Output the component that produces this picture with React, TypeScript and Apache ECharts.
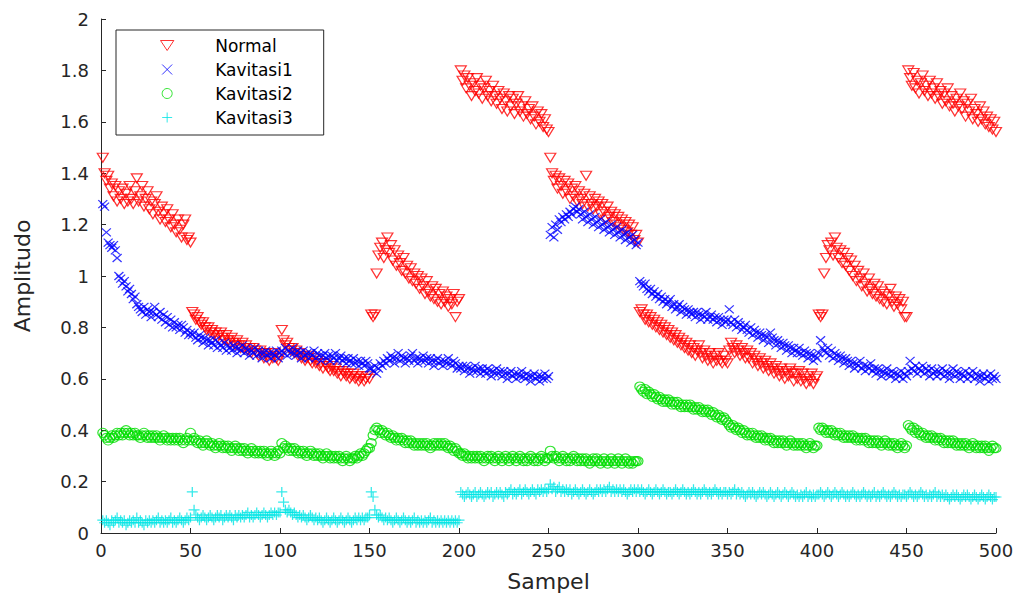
import React, { useEffect, useRef } from "react";
import * as echarts from "echarts";

// Sample values (index 1..500)
const normal = [
  1.46,1.40,1.37,1.39,1.34,1.36,1.31,1.35,1.29,1.33,1.30,1.34,1.28,1.32,1.29,1.35,1.30,1.28,1.33,1.38,1.29,1.31,1.35,1.27,1.30,1.33,1.26,1.29,1.24,1.28,1.31,1.25,1.22,1.27,1.24,1.21,1.26,1.22,1.19,1.24,1.20,1.17,1.22,1.18,1.15,1.20,1.22,1.14,1.15,1.13,
  0.86,0.85,0.83,0.84,0.82,0.81,0.82,0.80,0.79,0.80,0.78,0.79,0.77,0.78,0.76,0.77,0.78,0.76,0.75,0.77,0.75,0.74,0.76,0.74,0.73,0.75,0.73,0.72,0.74,0.72,0.73,0.71,0.72,0.70,0.72,0.71,0.70,0.69,0.71,0.70,0.68,0.70,0.69,0.67,0.69,0.68,0.70,0.68,0.67,0.69,
  0.79,0.75,0.73,0.74,0.72,0.71,0.72,0.70,0.71,0.69,0.70,0.68,0.69,0.67,0.68,0.69,0.67,0.66,0.68,0.66,0.67,0.65,0.66,0.64,0.66,0.65,0.64,0.63,0.65,0.63,0.64,0.62,0.63,0.61,0.63,0.62,0.61,0.62,0.60,0.61,0.62,0.60,0.61,0.59,0.60,0.61,0.59,0.60,0.61,0.60,
  0.85,0.84,0.85,1.01,1.08,1.11,1.13,1.07,1.10,1.15,1.09,1.12,1.06,1.10,1.04,1.08,1.05,1.02,1.07,1.01,1.04,0.99,1.03,0.98,1.01,0.97,1.00,0.95,0.99,0.96,0.93,0.98,0.94,0.92,0.96,0.91,0.95,0.90,0.93,0.89,0.94,0.90,0.92,0.88,0.91,0.89,0.93,0.84,0.90,0.91,
  1.80,1.76,1.78,1.73,1.77,1.74,1.70,1.75,1.72,1.77,1.71,1.74,1.69,1.73,1.76,1.70,1.72,1.68,1.74,1.70,1.67,1.72,1.69,1.65,1.71,1.68,1.64,1.70,1.66,1.69,1.63,1.67,1.70,1.64,1.66,1.62,1.68,1.63,1.65,1.61,1.66,1.62,1.59,1.64,1.60,1.63,1.58,1.61,1.57,1.56,
  1.46,1.40,1.37,1.39,1.34,1.38,1.35,1.32,1.37,1.33,1.36,1.30,1.34,1.31,1.35,1.29,1.33,1.30,1.28,1.32,1.39,1.27,1.31,1.28,1.26,1.30,1.27,1.29,1.24,1.28,1.25,1.22,1.27,1.23,1.25,1.21,1.24,1.20,1.23,1.19,1.22,1.18,1.21,1.17,1.20,1.16,1.19,1.14,1.16,1.13,
  0.86,0.87,0.85,0.83,0.85,0.82,0.84,0.81,0.83,0.80,0.82,0.79,0.81,0.78,0.80,0.77,0.79,0.76,0.78,0.75,0.77,0.74,0.76,0.73,0.75,0.72,0.74,0.71,0.73,0.70,0.72,0.69,0.71,0.73,0.70,0.68,0.71,0.69,0.67,0.70,0.68,0.66,0.69,0.67,0.70,0.67,0.66,0.69,0.67,0.66,
  0.71,0.74,0.72,0.70,0.73,0.71,0.69,0.72,0.70,0.68,0.71,0.68,0.70,0.66,0.69,0.67,0.65,0.68,0.66,0.64,0.67,0.65,0.63,0.66,0.64,0.62,0.65,0.63,0.61,0.64,0.62,0.60,0.63,0.61,0.64,0.62,0.59,0.62,0.60,0.63,0.59,0.62,0.60,0.58,0.61,0.59,0.62,0.58,0.60,0.61,
  0.85,0.84,0.85,1.01,1.07,1.12,1.10,1.13,1.08,1.15,1.11,1.07,1.10,1.05,1.09,1.04,1.07,1.02,1.06,1.00,1.04,0.98,1.02,0.99,0.96,1.01,0.97,0.94,0.99,0.95,0.93,0.97,0.92,0.96,0.91,0.94,0.90,0.93,0.89,0.92,0.95,0.90,0.88,0.92,0.89,0.91,0.87,0.90,0.84,0.84,
  1.80,1.77,1.74,1.79,1.73,1.76,1.71,1.75,1.78,1.72,1.74,1.70,1.76,1.71,1.73,1.69,1.75,1.70,1.72,1.67,1.71,1.68,1.73,1.66,1.70,1.67,1.64,1.69,1.66,1.71,1.65,1.68,1.62,1.67,1.64,1.69,1.61,1.65,1.63,1.60,1.66,1.61,1.64,1.59,1.62,1.58,1.61,1.57,1.60,1.56,
];

const kavitasi1 = [
  1.28,1.27,1.17,1.13,1.12,1.11,1.12,1.10,1.07,1.00,0.99,0.97,0.98,0.96,0.94,0.95,0.93,0.91,0.92,0.89,0.88,0.87,0.86,0.88,0.85,0.87,0.86,0.84,0.86,0.88,0.85,0.84,0.86,0.83,0.85,0.82,0.84,0.81,0.83,0.80,0.82,0.80,0.81,0.79,0.81,0.80,0.78,0.79,0.77,0.78,
  0.77,0.78,0.76,0.75,0.77,0.76,0.74,0.76,0.75,0.73,0.75,0.74,0.73,0.75,0.72,0.74,0.73,0.72,0.74,0.71,0.73,0.72,0.71,0.73,0.72,0.70,0.72,0.71,0.73,0.70,0.72,0.71,0.69,0.71,0.70,0.72,0.69,0.71,0.70,0.68,0.70,0.71,0.69,0.70,0.68,0.70,0.69,0.71,0.68,0.70,
  0.71,0.70,0.72,0.69,0.71,0.70,0.72,0.70,0.69,0.71,0.70,0.68,0.71,0.69,0.70,0.68,0.70,0.69,0.71,0.68,0.70,0.69,0.67,0.69,0.70,0.68,0.69,0.67,0.69,0.68,0.70,0.67,0.68,0.69,0.67,0.68,0.66,0.68,0.67,0.66,0.68,0.66,0.67,0.65,0.67,0.66,0.65,0.67,0.66,0.64,
  0.64,0.63,0.65,0.62,0.64,0.66,0.65,0.67,0.66,0.68,0.67,0.69,0.68,0.66,0.68,0.70,0.67,0.69,0.68,0.66,0.68,0.67,0.69,0.70,0.67,0.68,0.66,0.68,0.67,0.69,0.67,0.68,0.66,0.68,0.67,0.65,0.67,0.68,0.66,0.67,0.65,0.67,0.66,0.68,0.66,0.65,0.67,0.66,0.64,0.65,
  0.64,0.65,0.63,0.65,0.64,0.62,0.64,0.63,0.65,0.63,0.64,0.62,0.64,0.63,0.62,0.64,0.63,0.61,0.63,0.62,0.64,0.62,0.63,0.61,0.63,0.62,0.60,0.62,0.63,0.61,0.62,0.60,0.62,0.61,0.63,0.61,0.60,0.62,0.61,0.59,0.61,0.62,0.60,0.61,0.59,0.61,0.60,0.62,0.60,0.61,
  1.16,1.19,1.15,1.20,1.18,1.22,1.21,1.23,1.22,1.24,1.23,1.25,1.24,1.26,1.27,1.25,1.26,1.24,1.22,1.25,1.23,1.21,1.24,1.22,1.20,1.23,1.21,1.19,1.22,1.20,1.18,1.21,1.19,1.17,1.20,1.18,1.16,1.19,1.17,1.15,1.18,1.16,1.14,1.17,1.15,1.13,1.16,1.14,1.12,1.13,
  0.98,0.97,0.96,0.97,0.95,0.94,0.95,0.93,0.94,0.92,0.93,0.91,0.92,0.90,0.91,0.89,0.90,0.91,0.88,0.89,0.87,0.88,0.89,0.86,0.88,0.87,0.85,0.87,0.86,0.85,0.86,0.84,0.86,0.85,0.83,0.85,0.84,0.86,0.83,0.84,0.85,0.83,0.84,0.82,0.84,0.83,0.81,0.83,0.82,0.83,
  0.87,0.82,0.81,0.83,0.80,0.82,0.81,0.79,0.80,0.81,0.79,0.78,0.80,0.77,0.79,0.78,0.76,0.78,0.77,0.75,0.77,0.76,0.74,0.78,0.76,0.75,0.73,0.75,0.74,0.72,0.74,0.73,0.71,0.73,0.72,0.70,0.72,0.71,0.70,0.72,0.70,0.69,0.71,0.70,0.68,0.70,0.69,0.67,0.69,0.68,
  0.70,0.75,0.72,0.71,0.70,0.72,0.69,0.71,0.68,0.70,0.69,0.67,0.69,0.68,0.66,0.68,0.67,0.65,0.67,0.66,0.64,0.66,0.65,0.67,0.64,0.65,0.63,0.65,0.64,0.66,0.63,0.64,0.62,0.64,0.63,0.61,0.63,0.62,0.64,0.62,0.61,0.63,0.62,0.60,0.62,0.61,0.63,0.60,0.62,0.61,
  0.63,0.67,0.64,0.63,0.65,0.62,0.64,0.63,0.65,0.62,0.64,0.63,0.61,0.64,0.62,0.63,0.61,0.63,0.62,0.64,0.61,0.63,0.62,0.60,0.62,0.64,0.61,0.63,0.62,0.60,0.62,0.61,0.63,0.60,0.62,0.61,0.63,0.60,0.62,0.61,0.59,0.61,0.62,0.60,0.61,0.59,0.62,0.60,0.61,0.60,
];

const kavitasi2 = [
  0.39,0.38,0.37,0.36,0.37,0.38,0.37,0.38,0.39,0.38,0.39,0.38,0.39,0.40,0.39,0.38,0.39,0.38,0.39,0.38,0.38,0.37,0.38,0.39,0.38,0.37,0.38,0.37,0.38,0.37,0.38,0.37,0.36,0.37,0.38,0.37,0.36,0.37,0.36,0.37,0.36,0.37,0.36,0.37,0.36,0.35,0.36,0.37,0.36,0.39,
  0.36,0.37,0.36,0.35,0.36,0.35,0.34,0.35,0.36,0.35,0.34,0.35,0.34,0.33,0.34,0.35,0.34,0.33,0.34,0.33,0.34,0.33,0.32,0.33,0.34,0.33,0.32,0.33,0.32,0.33,0.32,0.31,0.32,0.33,0.32,0.31,0.32,0.31,0.32,0.31,0.32,0.31,0.30,0.31,0.32,0.31,0.30,0.31,0.32,0.31,
  0.35,0.33,0.34,0.33,0.32,0.33,0.32,0.33,0.32,0.31,0.32,0.31,0.32,0.31,0.30,0.31,0.32,0.31,0.30,0.31,0.30,0.31,0.30,0.29,0.30,0.31,0.30,0.29,0.30,0.29,0.30,0.29,0.30,0.29,0.28,0.29,0.30,0.29,0.28,0.29,0.29,0.30,0.29,0.30,0.31,0.30,0.31,0.32,0.33,0.33,
  0.35,0.38,0.40,0.41,0.40,0.39,0.40,0.39,0.38,0.39,0.38,0.37,0.38,0.37,0.36,0.37,0.36,0.37,0.36,0.35,0.36,0.35,0.36,0.35,0.34,0.35,0.34,0.35,0.34,0.35,0.34,0.35,0.34,0.33,0.34,0.35,0.34,0.35,0.34,0.35,0.34,0.35,0.34,0.33,0.34,0.33,0.32,0.33,0.32,0.31,
  0.31,0.30,0.31,0.30,0.29,0.30,0.29,0.30,0.29,0.30,0.29,0.30,0.29,0.28,0.29,0.30,0.29,0.30,0.29,0.28,0.29,0.30,0.29,0.28,0.29,0.30,0.29,0.28,0.29,0.30,0.29,0.28,0.29,0.30,0.29,0.28,0.29,0.28,0.29,0.30,0.29,0.28,0.29,0.28,0.29,0.30,0.29,0.28,0.29,0.29,
  0.32,0.30,0.29,0.30,0.29,0.28,0.29,0.30,0.29,0.28,0.29,0.28,0.29,0.30,0.29,0.28,0.29,0.28,0.29,0.28,0.29,0.28,0.27,0.28,0.29,0.28,0.29,0.28,0.27,0.28,0.29,0.28,0.27,0.28,0.29,0.28,0.27,0.28,0.29,0.28,0.27,0.28,0.29,0.28,0.27,0.28,0.27,0.28,0.28,0.28,
  0.57,0.56,0.55,0.56,0.54,0.55,0.54,0.53,0.54,0.53,0.52,0.53,0.52,0.51,0.52,0.51,0.52,0.51,0.50,0.51,0.50,0.51,0.50,0.49,0.50,0.49,0.50,0.49,0.50,0.49,0.48,0.49,0.48,0.49,0.48,0.47,0.48,0.47,0.48,0.47,0.46,0.47,0.46,0.45,0.46,0.45,0.44,0.45,0.44,0.43,
  0.42,0.41,0.42,0.41,0.40,0.41,0.40,0.39,0.40,0.39,0.38,0.39,0.38,0.39,0.38,0.37,0.38,0.37,0.38,0.37,0.36,0.37,0.36,0.37,0.36,0.35,0.36,0.35,0.36,0.35,0.36,0.35,0.34,0.35,0.36,0.35,0.34,0.35,0.34,0.35,0.34,0.35,0.34,0.33,0.34,0.35,0.34,0.33,0.34,0.34,
  0.41,0.40,0.41,0.40,0.39,0.40,0.39,0.40,0.39,0.38,0.39,0.38,0.39,0.38,0.37,0.38,0.37,0.38,0.37,0.38,0.37,0.36,0.37,0.36,0.37,0.36,0.37,0.36,0.35,0.36,0.35,0.36,0.35,0.36,0.35,0.34,0.35,0.36,0.35,0.34,0.35,0.34,0.35,0.34,0.33,0.34,0.35,0.34,0.33,0.34,
  0.42,0.41,0.40,0.41,0.39,0.40,0.39,0.38,0.39,0.38,0.37,0.38,0.37,0.38,0.37,0.36,0.37,0.36,0.37,0.36,0.35,0.36,0.35,0.36,0.35,0.36,0.35,0.34,0.35,0.34,0.35,0.34,0.35,0.34,0.33,0.34,0.35,0.34,0.33,0.34,0.33,0.34,0.33,0.34,0.33,0.32,0.33,0.34,0.33,0.33,
];

const kavitasi3 = [
  0.05,0.04,0.05,0.04,0.03,0.05,0.04,0.05,0.06,0.04,0.05,0.04,0.05,0.03,0.04,0.05,0.04,0.05,0.04,0.06,0.04,0.05,0.04,0.03,0.05,0.04,0.05,0.04,0.05,0.04,0.05,0.06,0.04,0.05,0.04,0.05,0.04,0.05,0.06,0.04,0.05,0.04,0.05,0.06,0.05,0.04,0.05,0.06,0.05,0.06,
  0.16,0.09,0.07,0.06,0.05,0.06,0.07,0.06,0.05,0.06,0.07,0.06,0.05,0.06,0.07,0.06,0.07,0.05,0.06,0.07,0.06,0.07,0.06,0.05,0.07,0.06,0.07,0.06,0.07,0.06,0.07,0.08,0.06,0.07,0.06,0.07,0.08,0.07,0.06,0.07,0.08,0.07,0.06,0.07,0.08,0.07,0.08,0.07,0.08,0.08,
  0.16,0.12,0.09,0.08,0.09,0.08,0.07,0.08,0.07,0.06,0.07,0.06,0.07,0.06,0.05,0.06,0.07,0.06,0.05,0.06,0.05,0.06,0.05,0.04,0.05,0.06,0.05,0.04,0.05,0.06,0.05,0.04,0.05,0.06,0.05,0.04,0.05,0.06,0.05,0.04,0.05,0.06,0.05,0.06,0.05,0.06,0.05,0.06,0.06,0.07,
  0.16,0.14,0.09,0.07,0.06,0.07,0.06,0.05,0.06,0.05,0.06,0.05,0.04,0.05,0.06,0.05,0.04,0.05,0.06,0.05,0.04,0.05,0.04,0.05,0.06,0.04,0.05,0.04,0.05,0.04,0.05,0.04,0.05,0.06,0.04,0.05,0.04,0.05,0.04,0.05,0.04,0.05,0.04,0.05,0.04,0.05,0.04,0.05,0.04,0.05,
  0.16,0.15,0.14,0.15,0.16,0.15,0.14,0.15,0.16,0.14,0.15,0.16,0.15,0.14,0.15,0.16,0.15,0.16,0.14,0.15,0.16,0.15,0.16,0.15,0.14,0.16,0.15,0.16,0.17,0.15,0.16,0.15,0.16,0.17,0.15,0.16,0.17,0.16,0.15,0.16,0.17,0.16,0.15,0.17,0.16,0.17,0.16,0.17,0.16,0.17,
  0.19,0.17,0.18,0.16,0.17,0.18,0.16,0.17,0.16,0.17,0.16,0.17,0.15,0.16,0.17,0.16,0.15,0.16,0.17,0.16,0.15,0.16,0.17,0.16,0.15,0.16,0.17,0.16,0.17,0.16,0.17,0.16,0.17,0.18,0.16,0.17,0.16,0.17,0.16,0.17,0.16,0.17,0.16,0.15,0.16,0.17,0.16,0.17,0.16,0.17,
  0.16,0.17,0.16,0.15,0.16,0.17,0.16,0.15,0.16,0.17,0.16,0.15,0.16,0.17,0.16,0.15,0.16,0.16,0.15,0.16,0.17,0.16,0.15,0.16,0.17,0.16,0.15,0.16,0.15,0.16,0.17,0.16,0.15,0.16,0.15,0.16,0.17,0.16,0.15,0.16,0.15,0.16,0.17,0.16,0.15,0.16,0.15,0.16,0.16,0.15,
  0.16,0.15,0.16,0.17,0.15,0.16,0.15,0.16,0.15,0.14,0.15,0.16,0.15,0.16,0.15,0.14,0.15,0.16,0.15,0.16,0.15,0.14,0.15,0.16,0.15,0.14,0.15,0.16,0.15,0.14,0.15,0.16,0.15,0.14,0.15,0.16,0.15,0.14,0.15,0.14,0.15,0.14,0.15,0.16,0.14,0.15,0.14,0.15,0.14,0.15,
  0.15,0.16,0.15,0.14,0.15,0.16,0.15,0.14,0.15,0.16,0.15,0.14,0.15,0.16,0.15,0.14,0.15,0.14,0.15,0.16,0.15,0.14,0.15,0.14,0.15,0.16,0.15,0.14,0.15,0.14,0.15,0.16,0.14,0.15,0.14,0.15,0.16,0.15,0.14,0.15,0.14,0.15,0.16,0.15,0.14,0.15,0.14,0.15,0.15,0.14,
  0.15,0.16,0.15,0.14,0.15,0.14,0.15,0.16,0.15,0.14,0.15,0.14,0.15,0.14,0.15,0.16,0.14,0.15,0.14,0.15,0.14,0.15,0.14,0.13,0.14,0.15,0.14,0.15,0.14,0.13,0.14,0.15,0.14,0.15,0.14,0.13,0.14,0.15,0.14,0.13,0.14,0.15,0.14,0.13,0.14,0.15,0.14,0.13,0.14,0.14,
];

const seriesNames = ["Normal", "Kavitasi1", "Kavitasi2", "Kavitasi3"];
const seriesColors = ["#ff0000", "#0000ff", "#00dd00", "#00e5e5"];
const xTicks = { min: 0, max: 500, interval: 50 };
const yTicks = { min: 0, max: 2, interval: 0.2 };

const FONT = "'DejaVu Sans', 'Liberation Sans', sans-serif";
const AXIS = "#262626";

const SYM_TRI = "path://M0,0L12,0L6,9Z";
const SYM_X = "path://M0,0L10,10M10,0L0,10";
const SYM_PLUS = "path://M5,0L5,10M0,5L10,5";

const toPoints = (arr: number[]) => arr.map((v, i) => [i + 1, v]);

export default function App() {
  const ref = useRef<HTMLDivElement>(null);
  useEffect(() => {
    if (!ref.current) return;
    const chart = echarts.init(ref.current, null, { renderer: "svg" });
    const hollow = (c: string) => ({ color: "none", borderColor: c, borderWidth: 1.2 });
    chart.setOption({
      animation: false,
      backgroundColor: "#ffffff",
      grid: { left: 101, right: 26, top: 19, bottom: 68 },
      legend: {
        orient: "vertical",
        left: 116,
        top: 30,
        padding: [7, 31, 9, 42],
        itemGap: 7,
        itemWidth: 86,
        itemHeight: 10,
        backgroundColor: "#ffffff",
        borderColor: AXIS,
        borderWidth: 1,
        borderRadius: 0,
        textStyle: { fontFamily: FONT, fontSize: 17, color: "#000", lineHeight: 17 },
        data: seriesNames.map((n, i) => ({
          name: n,
          itemStyle: { color: "none", borderColor: seriesColors[i], borderWidth: 1 },
        })),
      },
      xAxis: {
        type: "value",
        min: xTicks.min,
        max: xTicks.max,
        interval: xTicks.interval,
        name: "Sampel",
        nameLocation: "middle",
        nameGap: 37,
        nameTextStyle: { fontFamily: FONT, fontSize: 22, color: AXIS },
        axisLine: { show: true, onZero: false, lineStyle: { color: AXIS, width: 1 } },
        axisTick: { show: true, inside: true, length: 5, lineStyle: { color: AXIS } },
        axisLabel: { fontFamily: FONT, fontSize: 18, color: AXIS, margin: 8 },
        splitLine: { show: false },
      },
      yAxis: {
        type: "value",
        min: yTicks.min,
        max: yTicks.max,
        interval: yTicks.interval,
        name: "Amplitudo",
        nameLocation: "middle",
        nameGap: 68,
        nameRotate: 90,
        nameTextStyle: { fontFamily: FONT, fontSize: 22, color: AXIS },
        axisLine: { show: true, lineStyle: { color: AXIS, width: 1 } },
        axisTick: { show: true, inside: true, length: 5, lineStyle: { color: AXIS } },
        axisLabel: { fontFamily: FONT, fontSize: 18, color: AXIS, margin: 12 },
        splitLine: { show: false },
      },
      series: [
        {
          name: seriesNames[0],
          type: "scatter",
          data: toPoints(normal),
          symbol: SYM_TRI,
          symbolSize: [11, 9],
          itemStyle: hollow(seriesColors[0]),
        },
        {
          name: seriesNames[1],
          type: "scatter",
          data: toPoints(kavitasi1),
          symbol: SYM_X,
          symbolSize: [9, 8],
          itemStyle: hollow(seriesColors[1]),
        },
        {
          name: seriesNames[2],
          type: "scatter",
          data: toPoints(kavitasi2),
          symbol: "circle",
          symbolSize: [10, 9],
          itemStyle: hollow(seriesColors[2]),
        },
        {
          name: seriesNames[3],
          type: "scatter",
          data: toPoints(kavitasi3),
          symbol: SYM_PLUS,
          symbolSize: [11, 10],
          itemStyle: hollow(seriesColors[3]),
        },
      ],
    });
    return () => chart.dispose();
  }, []);
  return (
    <div
      ref={ref}
      style={{ position: "fixed", left: 0, top: 0, width: 1022, height: 601, background: "#fff" }}
    />
  );
}
